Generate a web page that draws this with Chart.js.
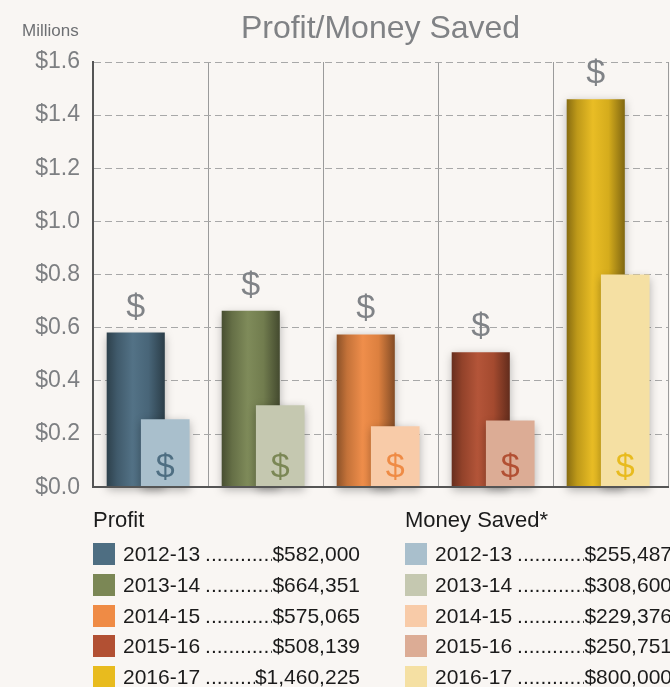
<!DOCTYPE html>
<html>
<head>
<meta charset="utf-8">
<script src="https://cdn.jsdelivr.net/npm/chart.js@4.4.1/dist/chart.umd.min.js"></script>
<style>
  html, body { margin: 0; padding: 0; }
  body {
    width: 670px; height: 687px; overflow: hidden; position: relative;
    background: #f9f6f3;
    font-family: "Liberation Sans", Arial, sans-serif;
  }
  #chart { position: absolute; left: 0; top: 0; }
  .title {
    position: absolute; left: 93px; width: 575px; top: 9px;
    text-align: center; font-size: 32px; line-height: 36px; color: #808285;
  }
  .units { position: absolute; left: 22px; top: 21px; font-size: 17px; line-height: 20px; color: #6e7073; }
  .col { position: absolute; top: 507px; width: 267px; height: 180px; }
  .col .head { font-size: 22px; line-height: 26px; color: #1b1b1b; }
  .row {
    position: absolute; left: 0; width: 267px; height: 26px;
    display: flex; align-items: center;
    font-size: 21px; line-height: 26px; color: #1b1b1b;
  }
  .sw { width: 22px; height: 22px; margin-right: 8px; flex: none; }
  .dots { flex: 1; overflow: hidden; white-space: nowrap; margin-left: 5px; }
  .val { flex: none; }
</style>
</head>
<body>
<canvas id="chart" width="670" height="514"></canvas>
<div class="units">Millions</div>
<div class="title">Profit/Money Saved</div>
<div class="col" id="profitLegend" style="left:93px"><div class="head">Profit</div></div>
<div class="col" id="savedLegend" style="left:405px"><div class="head">Money Saved*</div></div>

<script>
const years = ['2012-13', '2013-14', '2014-15', '2015-16', '2016-17'];
const profit = [582000, 664351, 575065, 508139, 1460225];
const moneySaved = [255487, 308600, 229376, 250751, 800000];
const yMax = 1.6;
const yStep = 0.2;

const profitColours = ['#4e6e82', '#7b8755', '#ef8b45', '#b25033', '#e8bb1e'];
const savedColours = ['#a9bfcc', '#c5c8b0', '#f8cba8', '#dcac95', '#f5e0a3'];

function shade(hex, amt) {
    const n = parseInt(hex.slice(1), 16);
    const rgb = [n >> 16, (n >> 8) & 255, n & 255].map(c =>
        Math.round(amt < 0 ? c * (1 + amt) : c + (255 - c) * amt));
    return `rgb(${rgb.join(',')})`;
}

// round "cylinder" look for the profit bars
function cylinder(context) {
    const chart = context.chart;
    const base = profitColours[context.dataIndex];
    if (context.type !== 'data' || !chart.chartArea) return base;
    const ds = chart.data.datasets[context.datasetIndex];
    const xs = chart.scales.x;
    const chunk = xs.width / years.length * ds.categoryPercentage / 2;
    const centre = xs.getPixelForValue(context.dataIndex) - chunk / 2;
    const half = chunk * ds.barPercentage / 2;
    const g = chart.ctx.createLinearGradient(centre - half, 0, centre + half, 0);
    g.addColorStop(0, shade(base, -0.42));
    g.addColorStop(0.18, shade(base, -0.18));
    g.addColorStop(0.45, shade(base, 0.03));
    g.addColorStop(0.72, shade(base, -0.08));
    g.addColorStop(1, shade(base, -0.45));
    return g;
}

function setShadow(ctx) {
    ctx.shadowColor = 'rgba(0,0,0,0.3)';
    ctx.shadowBlur = 9;
    ctx.shadowOffsetX = 0;
    ctx.shadowOffsetY = 3;
}

const barExtras = {
    id: 'barExtras',
    // profit bars go underneath the money saved bars
    beforeDatasetsDraw(chart) {
        const ctx = chart.ctx;
        ctx.save();
        setShadow(ctx);
        chart.getDatasetMeta(0).data.forEach(bar => bar.draw(ctx));
        ctx.restore();
    },
    beforeDatasetDraw(chart, args) {
        if (args.index === 0) return false;
        chart.ctx.save();
        setShadow(chart.ctx);
    },
    afterDatasetDraw(chart) {
        chart.ctx.restore();
    },
    afterDatasetsDraw(chart) {
        const ctx = chart.ctx;
        ctx.save();
        ctx.font = '34px "Liberation Sans", Arial, sans-serif';
        ctx.textAlign = 'center';
        ctx.textBaseline = 'alphabetic';
        chart.getDatasetMeta(0).data.forEach(bar => {
            ctx.fillStyle = '#808387';
            ctx.fillText('$', bar.x, bar.y - 16);
        });
        chart.getDatasetMeta(1).data.forEach((bar, i) => {
            ctx.fillStyle = profitColours[i];
            ctx.fillText('$', bar.x, bar.base - 10);
        });
        ctx.restore();
    }
};

const ctx = document.getElementById('chart').getContext('2d');
const myChart = new Chart(ctx, {
    type: 'bar',
    data: {
        labels: years,
        datasets: [{
            label: 'Profit',
            data: profit.map(v => v / 1e6),
            backgroundColor: cylinder,
            categoryPercentage: 0.513,
            barPercentage: 1.97,
            clip: false
        }, {
            label: 'Money Saved*',
            data: moneySaved.map(v => v / 1e6),
            backgroundColor: savedColours,
            categoryPercentage: 0.513,
            barPercentage: 1.65,
            clip: false
        }]
    },
    options: {
        responsive: false,
        devicePixelRatio: 1,
        animation: false,
        layout: { padding: { top: 62, right: 2, bottom: 0, left: 0 } },
        plugins: {
            legend: { display: false },
            tooltip: { enabled: false }
        },
        scales: {
            x: {
                ticks: { display: false },
                grid: { color: '#9b9b9b', lineWidth: 1, drawTicks: false },
                border: { color: '#555', width: 2, z: 1 },
                afterFit: (s) => { s.height = 0; }
            },
            y: {
                min: 0,
                max: yMax,
                ticks: {
                    stepSize: yStep,
                    padding: 13,
                    color: '#7d7f82',
                    font: { family: '"Liberation Sans", Arial, sans-serif', size: 23 },
                    callback: (v) => '$' + v.toFixed(1)
                },
                grid: { color: '#a8a8a8', lineWidth: 1, drawTicks: false },
                border: { color: '#555', width: 2, dash: [7, 4] },
                afterFit: (s) => { s.width = 93; }
            }
        }
    },
    plugins: [barExtras]
});

function buildLegend(id, values, colours) {
    const col = document.getElementById(id);
    values.forEach((v, i) => {
        const row = document.createElement('div');
        row.className = 'row';
        row.style.top = (34 + i * 30.8) + 'px';
        row.innerHTML = `<span class="sw" style="background:${colours[i]}"></span>` +
            `<span>${years[i]}</span>` +
            `<span class="dots">${'.'.repeat(40)}</span>` +
            `<span class="val">$${v.toLocaleString('en-US')}</span>`;
        col.appendChild(row);
    });
}
buildLegend('profitLegend', profit, profitColours);
buildLegend('savedLegend', moneySaved, savedColours);
</script>
</body>
</html>
